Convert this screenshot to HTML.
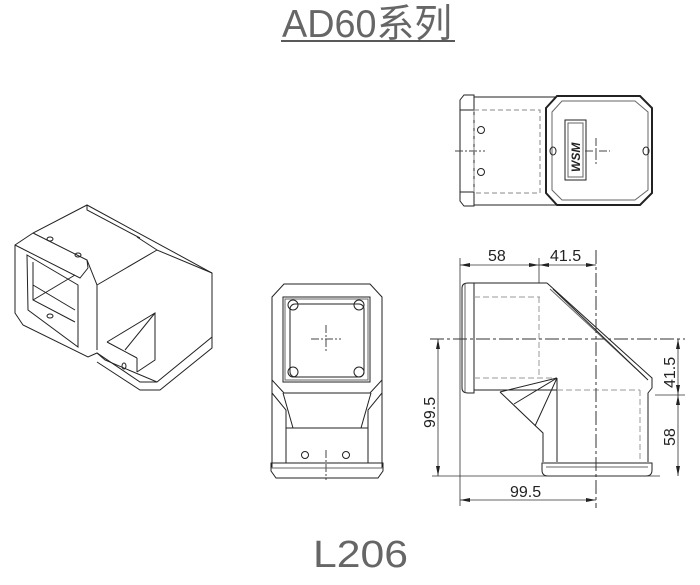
<!DOCTYPE html>
<html><head><meta charset="utf-8"><style>
html,body{margin:0;padding:0;background:#fff;width:700px;height:585px;overflow:hidden}
</style></head><body>
<svg width="700" height="585" viewBox="0 0 700 585" xmlns="http://www.w3.org/2000/svg" font-family="Liberation Sans, Noto Sans CJK SC, sans-serif">
<g fill="none" stroke="#222" stroke-width="1">
<!-- title -->
<text x="282" y="37" font-size="39" fill="#666" stroke="none" textLength="170" lengthAdjust="spacingAndGlyphs">AD60系列</text>
<line x1="281" y1="41" x2="455" y2="41" stroke-width="1.5"/>
<text x="313" y="567" font-size="38" fill="#666" stroke="none" textLength="95" lengthAdjust="spacingAndGlyphs">L206</text>

<!-- ISO view -->
<polygon points="15,245 33,233 87,205 212,273 212,337 157,382 140,382 97,353 88,357 23,325 15,313"/>
<polyline points="33,233 87,260 97,285 97,350"/>
<polyline points="87,260 88,268"/>
<polyline points="15,245 80,278 88,268"/>
<polyline points="97,285 157,250 212,273"/>
<polyline points="137,237 157,250"/>
<polyline points="87,205 87,210 140,238"/>
<polygon points="27,255 78,285 78,347 28,310"/>
<polyline points="33,262 33,300 75,322"/>
<line x1="33" y1="285" x2="75" y2="310"/>
<line x1="33" y1="300" x2="75" y2="275"/>
<polyline points="107,342 155,313 155,360 137,372"/>
<line x1="125" y1="350" x2="155" y2="313"/>
<line x1="107" y1="342" x2="137" y2="358"/>
<line x1="137" y1="358" x2="137" y2="372"/>
<polyline points="97,353 105,360 157,382"/>
<polyline points="212,337 212,348 160,390 140,390 97,362"/>
<ellipse cx="50" cy="239" rx="3" ry="2"/><ellipse cx="78" cy="255" rx="3" ry="2"/>
<ellipse cx="50" cy="316" rx="3" ry="2"/><ellipse cx="124" cy="366" rx="2" ry="3"/>

<!-- TOP view -->
<polygon points="460,100 464,95 474,95 474,206 464,206 460,201"/>
<line x1="460" y1="110" x2="474" y2="110"/><line x1="460" y1="192" x2="474" y2="192"/>
<line x1="474" y1="97" x2="556" y2="97"/><line x1="474" y1="205" x2="556" y2="205"/>
<rect x="474" y="110" width="66" height="83" stroke="#888" stroke-dasharray="5,3"/>
<polygon points="546,108 557,96 640,96 652,108 652,193 640,205 557,205 546,193" stroke-width="2"/>
<polygon points="552,112 562,101 635,101 648,112 648,190 635,200 562,200 552,190" stroke="#666"/>
<rect x="565" y="120" width="21" height="60"/><rect x="568" y="123" width="15" height="54" stroke="#666"/>
<text x="0" y="0" font-size="12" fill="#222" stroke="none" font-style="italic" font-weight="bold" transform="translate(580,172) rotate(-90)">WSM</text>
<circle cx="481" cy="130" r="3.5"/><circle cx="481" cy="172" r="3.5"/>
<ellipse cx="553" cy="151" rx="3" ry="4"/><ellipse cx="646" cy="151" rx="3" ry="4"/>
<g stroke="#444" stroke-dasharray="8,2,2,2"><line x1="455" y1="151" x2="485" y2="151"/><line x1="585" y1="151" x2="610" y2="151"/><line x1="596" y1="138" x2="596" y2="165"/></g>

<!-- FRONT view -->
<polygon points="272,297 284,284 370,284 382,297 382,380 370,393 284,393 272,380"/>
<rect x="283" y="297" width="87" height="85"/>
<rect x="285" y="299" width="83" height="81" stroke="#666"/>
<rect x="290" y="304" width="74" height="73" rx="5"/>
<circle cx="293" cy="305" r="5"/><circle cx="359" cy="305" r="5"/><circle cx="293" cy="372" r="5"/><circle cx="359" cy="372" r="5"/>
<g stroke="#444" stroke-dasharray="8,2,2,2"><line x1="311" y1="339" x2="341" y2="339"/><line x1="326" y1="325" x2="326" y2="353"/><line x1="326" y1="450" x2="326" y2="480"/></g>
<polyline points="272,380 272,468"/><polyline points="382,380 382,468"/>
<polyline points="272,393 286,410 286,428"/><polyline points="382,393 368,410 368,428"/>
<polyline points="283,393 293,428 286,428"/><polyline points="371,393 361,428 368,428"/>
<line x1="286" y1="428" x2="368" y2="428"/>
<polyline points="286,428 286,463"/><polyline points="368,428 368,463"/>
<polygon points="271,463 383,463 383,471 378,478 276,478 271,471"/>
<line x1="271" y1="468" x2="383" y2="468" stroke="#666"/>
<circle cx="305" cy="455" r="3.5"/><circle cx="346" cy="455" r="3.5"/>

<!-- SIDE view -->
<path d="M462,288 Q462,283 468,283 L474,283 L474,393 L468,393 Q462,393 462,388 Z"/>
<line x1="465" y1="284" x2="465" y2="392" stroke="#666"/>
<line x1="474" y1="283" x2="547" y2="283"/>
<line x1="474" y1="297" x2="540" y2="297" stroke="#999" stroke-dasharray="6,3"/>
<line x1="474" y1="378" x2="557" y2="378" stroke="#999" stroke-dasharray="6,3"/>
<line x1="474" y1="390" x2="557" y2="390"/>
<polyline points="547,283 652,378 652,388 648,393 648,462"/>
<line x1="550" y1="289" x2="645" y2="377" stroke="#666"/>
<line x1="553" y1="289" x2="648" y2="380"/>
<line x1="539" y1="297" x2="539" y2="378" stroke="#999" stroke-dasharray="6,3"/>
<line x1="557" y1="378" x2="557" y2="462"/>
<line x1="557" y1="390" x2="640" y2="390" stroke="#999" stroke-dasharray="6,3"/>
<line x1="640" y1="390" x2="640" y2="462" stroke="#999" stroke-dasharray="6,3"/>
<polyline points="500,392 543,433 543,462"/>
<polyline points="500,392 557,378"/>
<line x1="514" y1="404" x2="557" y2="378"/>
<line x1="535" y1="426" x2="557" y2="378"/>
<path d="M542,463 L652,463 L652,470 Q652,476 646,476 L548,476 Q542,476 542,470 Z"/>
<line x1="546" y1="467" x2="648" y2="467" stroke="#666"/>
<!-- center lines -->
<g stroke="#333" stroke-dasharray="14,3,3,3"><line x1="430" y1="339" x2="685" y2="339"/><line x1="596" y1="250" x2="596" y2="508"/></g>
<!-- dims -->
<g stroke="#333" stroke-width="0.8">
<line x1="460" y1="258" x2="460" y2="506"/><line x1="539" y1="258" x2="539" y2="283"/>
<line x1="460" y1="265" x2="596" y2="265"/>
<line x1="460" y1="500" x2="596" y2="500"/>
<line x1="432" y1="476" x2="660" y2="476"/>
<line x1="438" y1="339" x2="438" y2="476"/>
<line x1="655" y1="395" x2="685" y2="395"/>
<line x1="678" y1="339" x2="678" y2="476"/>
</g>
<g fill="#222" stroke="none">
<polygon points="460,265 470,263 470,267"/><polygon points="539,265 529,263 529,267"/><polygon points="539,265 549,263 549,267"/><polygon points="596,265 586,263 586,267"/>
<polygon points="460,500 470,498 470,502"/><polygon points="596,500 586,498 586,502"/>
<polygon points="438,339 436,349 440,349"/><polygon points="438,476 436,466 440,466"/>
<polygon points="678,339 676,349 680,349"/><polygon points="678,395 676,385 680,385"/><polygon points="678,395 676,405 680,405"/><polygon points="678,476 676,466 680,466"/>
<text x="488" y="261" font-size="16">58</text>
<text x="550" y="261" font-size="16">41.5</text>
<text x="510" y="497" font-size="16">99.5</text>
<text font-size="16" transform="translate(435,428) rotate(-90)">99.5</text>
<text font-size="16" transform="translate(675,388) rotate(-90)">41.5</text>
<text font-size="16" transform="translate(675,446) rotate(-90)">58</text>
</g>
</g>
</svg>
</body></html>
